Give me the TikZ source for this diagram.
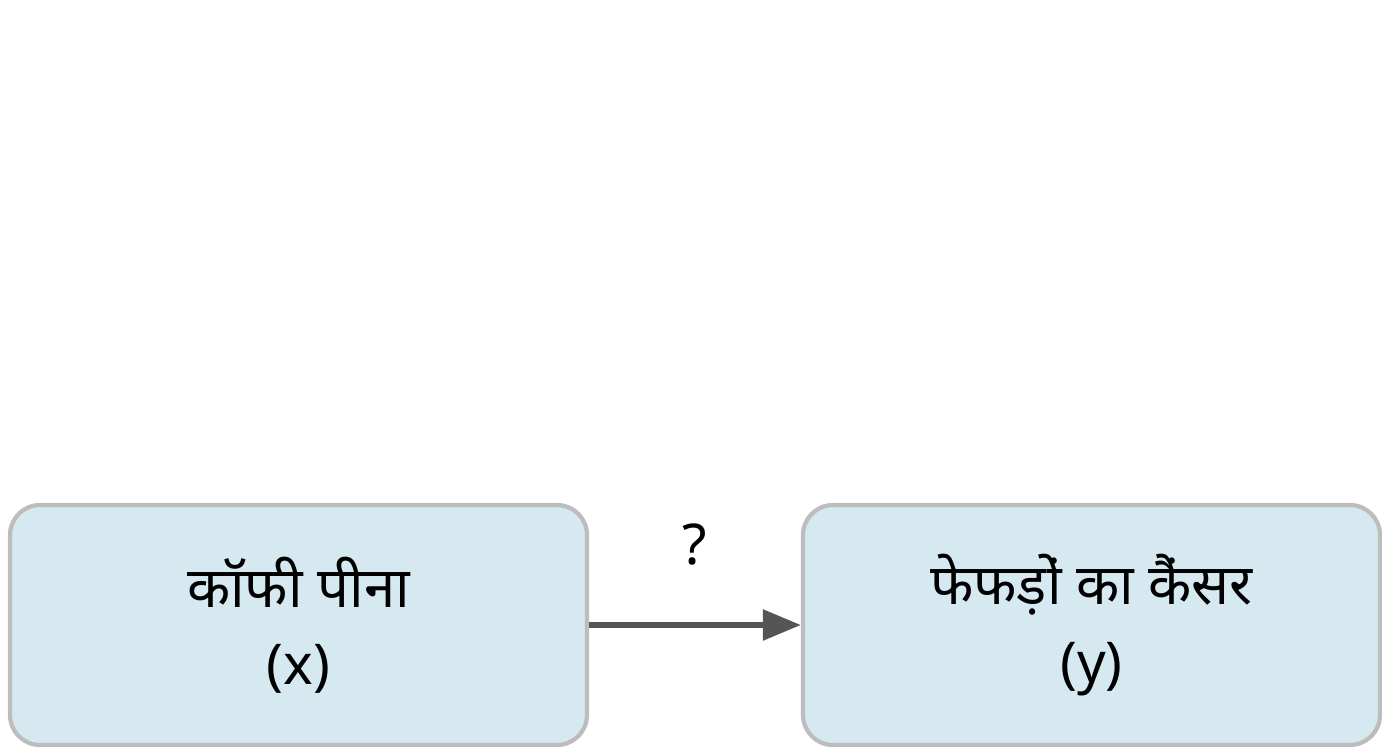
\documentclass[tikz,border=0pt]{standalone}
\usepackage{fontspec}
\setmainfont{Noto Sans}
\usetikzlibrary{positioning,arrows.meta}
\definecolor{boxfill}{HTML}{D6E8F0}
\definecolor{boxline}{HTML}{BDBDBD}
\definecolor{arrowgray}{HTML}{555555}
\tikzset{
  varbox/.style={draw=boxline, line width=1.2pt, fill=boxfill, rounded corners=0.3cm,
    minimum width=5.77cm, minimum height=2.4cm, align=center,
    font=\fontsize{16}{22}\selectfont}
}
\begin{document}
\begin{tikzpicture}
    \useasboundingbox (0,0) rectangle (13.82,7.52);
    \node[varbox] (coffee) at (2.985,1.27) {कॉफी पीना\\(x)};
    \node[varbox] (cancer) at (10.915,1.27) {फेफड़ों का कैंसर\\(y)};
    \draw[arrowgray, line width=1.6pt, -{Triangle[length=0.38cm,width=0.3cm]}] (coffee) -- node[above=0.45cm, black, font=\fontsize{16}{20}\selectfont] (q) {?} (cancer);
\end{tikzpicture}
\end{document}
